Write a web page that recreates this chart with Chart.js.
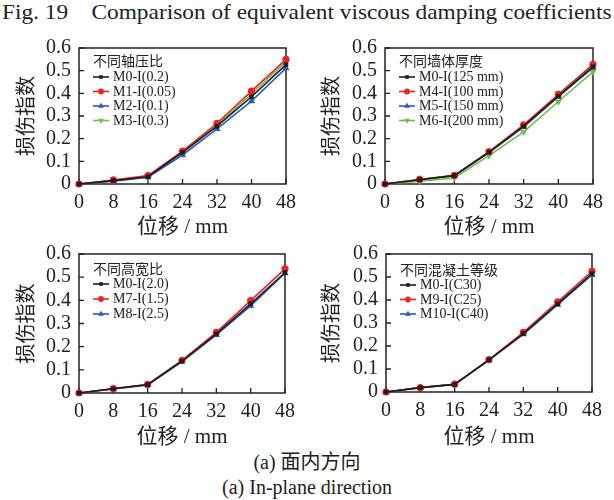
<!DOCTYPE html>
<html><head><meta charset="utf-8">
<script src="https://cdn.jsdelivr.net/npm/chart.js@4"></script>
<style>
body{margin:0;background:#fff;width:614px;height:500px;overflow:hidden;position:relative;font-family:"Liberation Serif","Noto Sans CJK SC",serif;color:#222;}
canvas{position:absolute;}
.t{position:absolute;white-space:pre;color:#222;line-height:1;}
</style></head><body>
<div id="title" class="t" style="left:2px;top:1px;font-size:22px;transform-origin:0 0;">Fig. 19    Comparison of equivalent viscous damping coefficients</div>
<div id="cap1" class="t" style="left:0;width:614px;text-align:center;top:452px;font-size:20px;">(a) 面内方向</div>
<div id="cap2" class="t" style="left:0;width:614px;text-align:center;top:477px;font-size:20px;">(a) In-plane direction</div>
<canvas id="c1" width="307" height="212" style="left:0;top:28px"></canvas>
<canvas id="c2" width="307" height="212" style="left:307px;top:28px"></canvas>
<canvas id="c3" width="307" height="216" style="left:0;top:234px"></canvas>
<canvas id="c4" width="307" height="216" style="left:307px;top:234px"></canvas>
<script>
// ---------- data ----------
const xLabels = ['0','8','16','24','32','40','48'];
const yTickLabels = ['0','0.1','0.2','0.3','0.4','0.5','0.6'];
const xTitle = '位移 / mm';
const yTitle = '损伤指数';

// panel 1: 不同轴压比
const p1Title = '不同轴压比';
const p1Names = ['M0-I(0.2)','M1-I(0.05)','M2-I(0.1)','M3-I(0.3)'];
const p1M0 = [0, 0.015, 0.032, 0.140, 0.255, 0.385, 0.527];
const p1M1 = [0, 0.018, 0.037, 0.145, 0.268, 0.410, 0.550];
const p1M2 = [0, 0.012, 0.030, 0.128, 0.243, 0.366, 0.511];
const p1M3 = [0, 0.016, 0.034, 0.141, 0.260, 0.397, 0.540];

// panel 2: 不同墙体厚度
const p2Title = '不同墙体厚度';
const p2Names = ['M0-I(125 mm)','M4-I(100 mm)','M5-I(150 mm)','M6-I(200 mm)'];
const p2M0 = [0, 0.019, 0.037, 0.140, 0.255, 0.388, 0.518];
const p2M4 = [0, 0.020, 0.038, 0.143, 0.261, 0.395, 0.528];
const p2M5 = [0, 0.020, 0.037, 0.139, 0.252, 0.385, 0.513];
const p2M6 = [0, 0.012, 0.027, 0.125, 0.230, 0.364, 0.495];

// panel 3: 不同高宽比
const p3Title = '不同高宽比';
const p3Names = ['M0-I(2.0)','M7-I(1.5)','M8-I(2.5)'];
const p3M0 = [0, 0.018, 0.036, 0.138, 0.255, 0.385, 0.520];
const p3M7 = [0, 0.019, 0.037, 0.141, 0.262, 0.399, 0.536];
const p3M8 = [0, 0.017, 0.035, 0.136, 0.251, 0.376, 0.517];

// panel 4: 不同混凝土等级
const p4Title = '不同混凝土等级';
const p4Names = ['M0-I(C30)','M9-I(C25)','M10-I(C40)'];
const p4M0 = [0, 0.019, 0.033, 0.140, 0.254, 0.383, 0.515];
const p4M9 = [0, 0.019, 0.034, 0.141, 0.259, 0.392, 0.525];
const p4M10 = [0, 0.019, 0.033, 0.139, 0.251, 0.380, 0.509];

// ---------- styles ----------
const FAM = '"Liberation Serif","Noto Sans CJK SC",serif';
const INK = '#222222';
const sBlack = {color:'#1e1e1e', pointStyle:'rect', radius:3.2, rotation:0};
const sRed   = {color:'#ee2224', pointStyle:'circle', radius:3.6, rotation:0};
const sBlue  = {color:'#2a5cbf', pointStyle:'triangle', radius:4.2, rotation:0};
const sGreen = {color:'#6cc04a', pointStyle:'triangle', radius:4.2, rotation:180};

function ds(label, data, s, order){
  return {label, data, borderColor:s.color, backgroundColor:s.color,
    pointStyle:s.pointStyle, pointRadius:s.radius, pointRotation:s.rotation,
    pointBorderWidth:0, pointHoverRadius:s.radius, borderWidth:1.6, tension:0, clip:false,
    order: order || 0};
}

const framePlugin = {
  id:'frame',
  beforeDatasetsDraw(chart){
    const {ctx, chartArea:a} = chart;
    ctx.save();
    ctx.strokeStyle = INK; ctx.lineWidth = 1.5;
    ctx.strokeRect(a.left, a.top, a.right-a.left, a.bottom-a.top);
    ctx.lineWidth = 1.3;
    const xs = chart.scales.x, ys = chart.scales.y;
    ctx.beginPath();
    xs.ticks.forEach((t,i)=>{ const px = xs.getPixelForTick(i); ctx.moveTo(px, a.bottom); ctx.lineTo(px, a.bottom-5); });
    ys.ticks.forEach((t,i)=>{ const py = ys.getPixelForTick(i); ctx.moveTo(a.left, py); ctx.lineTo(a.left+5, py); });
    ctx.stroke();
    ctx.restore();
  }
};

const legendPlugin = {
  id:'inlegend',
  afterDraw(chart, args, opts){
    const {ctx, chartArea:a} = chart;
    ctx.save();
    ctx.fillStyle = INK;
    ctx.textBaseline = 'middle';
    ctx.textAlign = 'left';
    ctx.font = '14px ' + FAM;
    ctx.fillText(opts.title, a.left + opts.dx, a.top + opts.ty);
    chart.data.datasets.forEach((d,i)=>{
      const y = a.top + opts.y0 + i*opts.dy;
      const x0 = a.left + opts.dx, x1 = x0 + 16;
      ctx.strokeStyle = d.borderColor; ctx.lineWidth = 1.6;
      ctx.beginPath(); ctx.moveTo(x0,y); ctx.lineTo(x1,y); ctx.stroke();
      ctx.fillStyle = d.borderColor;
      Chart.helpers.drawPoint(ctx, {pointStyle:d.pointStyle, rotation:d.pointRotation, radius:d.pointRadius*0.8, borderWidth:0}, (x0+x1)/2, y);
      ctx.fillStyle = INK;
      ctx.fillText(d.label, x1 + 4, y + 0.5);
    });
    ctx.restore();
  }
};

function makePanel(id, cv, area, datasets, legendOpts, ytPad){
  const el = document.getElementById(id);
  const xAxisH = cv.h - (area.b - cv.top);
  const yAxisW = area.l - cv.left;
  return new Chart(el, {
    type:'line',
    data:{labels:xLabels, datasets},
    plugins:[framePlugin, legendPlugin],
    options:{
      responsive:false, animation:false, devicePixelRatio:1,
      layout:{padding:{left:0, bottom:0, top:area.t - cv.top, right:cv.left + cv.w - area.r}},
      plugins:{legend:{display:false}, tooltip:{enabled:false}, inlegend:legendOpts},
      scales:{
        x:{type:'category', offset:false,
           grid:{display:false, drawTicks:false},
           border:{display:false},
           ticks:{color:INK, padding:7, autoSkip:false, maxRotation:0, font:{family:FAM, size:20}},
           title:{display:true, text:xTitle, color:INK, padding:{top:0,bottom:0}, font:{family:FAM, size:21, lineHeight:1.15}},
           afterFit(s){ s.height = xAxisH; }
        },
        y:{type:'linear', min:0, max:0.6,
           grid:{display:false, drawTicks:false},
           border:{display:false},
           ticks:{color:INK, padding:8, stepSize:0.1, autoSkip:false, font:{family:FAM, size:20},
                  callback:(v,i)=>yTickLabels[i]},
           title:{display:true, text:yTitle, color:INK, padding:{top:ytPad,bottom:0}, font:{family:FAM, size:20, lineHeight:1.2}},
           afterFit(s){ s.width = yAxisW; }
        }
      }
    }
  });
}

makePanel('c1', {left:0, top:28, w:307, h:212}, {l:79, t:41, r:286, b:184},
  [ds(p1Names[0], p1M0, sBlack), ds(p1Names[1], p1M1, sRed), ds(p1Names[2], p1M2, sBlue), ds(p1Names[3], p1M3, sGreen)],
  {title:p1Title, dx:14, ty:14, y0:29, dy:14.5}, 16);
makePanel('c2', {left:307, top:28, w:307, h:212}, {l:385, t:41, r:593, b:184},
  [ds(p2Names[0], p2M0, sBlack), ds(p2Names[1], p2M4, sRed), ds(p2Names[2], p2M5, sBlue), ds(p2Names[3], p2M6, sGreen)],
  {title:p2Title, dx:14, ty:14, y0:29, dy:14.5}, 14);
makePanel('c3', {left:0, top:234, w:307, h:216}, {l:79, t:247, r:285, b:393},
  [ds(p3Names[0], p3M0, sBlack), ds(p3Names[1], p3M7, sRed), ds(p3Names[2], p3M8, sBlue)],
  {title:p3Title, dx:14, ty:16, y0:30, dy:15}, 16);
makePanel('c4', {left:307, top:234, w:307, h:216}, {l:386, t:246, r:592, b:392},
  [ds(p4Names[0], p4M0, sBlack), ds(p4Names[1], p4M9, sRed), ds(p4Names[2], p4M10, sBlue)],
  {title:p4Title, dx:14, ty:17, y0:31, dy:14.5}, 14);

// fit figure title to the reference width
const tEl = document.getElementById('title');
const sc = 610 / tEl.scrollWidth;
tEl.style.transform = 'scaleX(' + sc + ')';
</script>
</body></html>
